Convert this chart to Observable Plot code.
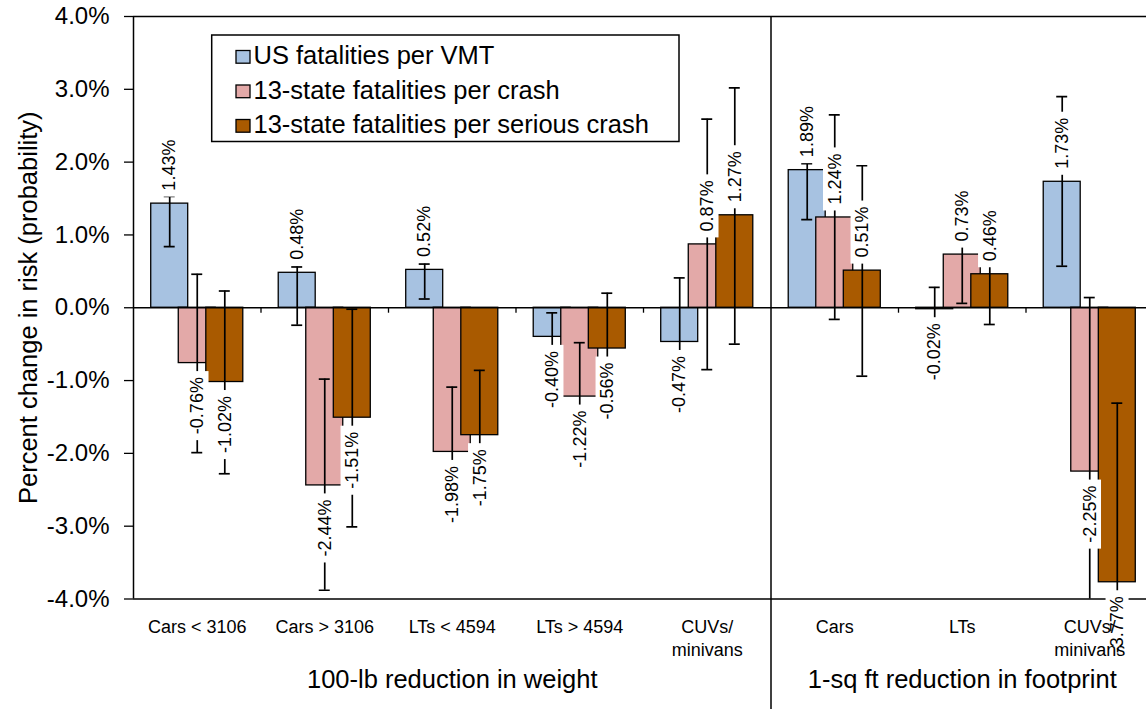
<!DOCTYPE html>
<html>
<head>
<meta charset="utf-8">
<script src="https://cdn.jsdelivr.net/npm/d3@7"></script>
<script src="https://cdn.jsdelivr.net/npm/@observablehq/plot@0.6"></script>
<style>
  html, body { margin: 0; padding: 0; background: white; overflow: hidden; }
  #chart { width: 1146px; height: 709px; }
</style>
</head>
<body>
<div id="chart"></div>
<script>
// ---- data ----
const categories = ["Cars < 3106", "Cars > 3106", "LTs < 4594", "LTs > 4594", "CUVs/\nminivans", "Cars", "LTs", "CUVs/\nminivans"];
const series = ["US fatalities per VMT", "13-state fatalities per crash", "13-state fatalities per serious crash"];
const colors = ["#a7c2e1", "#e3a9a8", "#a95a00"];

const vmt      = [1.43, 0.48, 0.52, -0.40, -0.47, 1.89, -0.02, 1.73];
const vmtLo    = [0.84, -0.24, 0.12, -0.73, -1.35, 1.21, -0.32, 0.57];
const vmtHi    = [1.53, 0.56, 0.60, -0.07, 0.41, 1.98, 0.28, 2.90];

const crash    = [-0.76, -2.44, -1.98, -1.22, 0.87, 1.24, 0.73, -2.25];
const crashLo  = [-1.99, -3.88, -2.87, -1.96, -0.85, -0.16, 0.06, -4.64];
const crashHi  = [0.46, -0.98, -1.09, -0.48, 2.59, 2.65, 1.40, 0.14];

const serious   = [-1.02, -1.51, -1.75, -0.56, 1.27, 0.51, 0.46, -3.77];
const seriousLo = [-2.28, -3.01, -2.64, -1.32, -0.50, -0.94, -0.23, -6.23];
const seriousHi = [0.23, -0.02, -0.86, 0.20, 3.02, 1.95, 1.15, -1.31];

const groups = [
  {name: "100-lb reduction in weight", from: 0, to: 5},
  {name: "1-sq ft reduction in footprint", from: 5, to: 8}
];
const yTicks = [-4, -3, -2, -1, 0, 1, 2, 3, 4];
const yTitle = "Percent change in risk (probability)";

// ---- table ----
const vals = [vmt, crash, serious], los = [vmtLo, crashLo, seriousLo], his = [vmtHi, crashHi, seriousHi];
const rows = [];
series.forEach((s, j) => categories.forEach((c, i) => rows.push({i, j, s, c, v: vals[j][i], lo: los[j][i], hi: his[j][i]})));

const STEP = 0.216, HALF = 0.145, CAP = 0.043;
const cx = d => d.i + 0.5 + (d.j - 1) * STEP;
const fmt = d => d.v.toFixed(2) + "%";
const boundaries = d3.range(1, categories.length).filter(b => !groups.some(g => g.from === b));

const plot = Plot.plot({
  width: 1146,
  height: 709,
  marginLeft: 133,
  marginRight: 0,
  marginTop: 16,
  marginBottom: 110.5,
  style: {fontFamily: "'Liberation Sans', Arial, sans-serif", fontSize: "18px", color: "black", background: "white"},
  x: {domain: [0, 8], range: [133, 1153], axis: null},
  y: {domain: [-4, 4], range: [598.5, 16]},
  color: {domain: series, range: colors},
  marks: [
    Plot.rect(rows, {x1: d => cx(d) - HALF, x2: d => cx(d) + HALF, y1: 0, y2: "v", fill: "s", stroke: "black", strokeWidth: 1.3}),
    Plot.ruleX(rows, {x: cx, y1: "lo", y2: "hi", stroke: "black", strokeWidth: 1.7, clip: true}),
    Plot.ruleY(rows, {y: "lo", x1: d => cx(d) - CAP, x2: d => cx(d) + CAP, stroke: "black", strokeWidth: 1.7, clip: true}),
    Plot.ruleY(rows, {y: "hi", x1: d => cx(d) - CAP, x2: d => cx(d) + CAP, stroke: "black", strokeWidth: 1.7, clip: true}),
    Plot.ruleY([0], {stroke: "black", strokeWidth: 1.3}),
    Plot.ruleX(boundaries, {y1: 0, y2: -0.075, stroke: "black", strokeWidth: 1.3}),
    Plot.ruleY([4], {stroke: "black", strokeWidth: 1.5}),
    Plot.ruleY([-4], {stroke: "black", strokeWidth: 1.5}),
    Plot.ruleX([0], {stroke: "black", strokeWidth: 1.5}),
    Plot.ruleX(groups.slice(1), {x: "from", y1: 4, y2: -5.8, stroke: "black", strokeWidth: 1.5}),
    Plot.axisY({ticks: yTicks, tickFormat: d => d.toFixed(1) + "%", tickSize: 9, tickPadding: 15, fontSize: 24, label: null, strokeWidth: 1.3}),
    Plot.text([yTitle], {frameAnchor: "left", textAnchor: "middle", dx: -105, rotate: -90, fontSize: 25.5, fill: "black"}),
    Plot.text(rows.filter(d => d.v >= 0), {x: cx, y: "v", text: fmt, rotate: -90, textAnchor: "start", lineAnchor: "middle", dy: -13, fontSize: 18, fill: "black"}),
    Plot.text(rows.filter(d => d.v < 0), {x: cx, y: "v", text: fmt, rotate: -90, textAnchor: "end", lineAnchor: "middle", dy: 14, fontSize: 18, fill: "black"}),
    Plot.text(categories, {x: (d, i) => i + 0.5, frameAnchor: "bottom", dy: 17, lineAnchor: "top", lineHeight: 1.3, fontSize: 18, fill: "black"}),
    Plot.text(groups, {x: d => (d.from + d.to) / 2, text: "name", frameAnchor: "bottom", dy: 89, fontSize: 25.5, fill: "black"})
  ]
});

document.getElementById("chart").appendChild(plot);

// white label backgrounds (sized from the rendered value-label text)
const labelRe = /^-?\d+\.\d\d%$/;
const labelTexts = Array.from(plot.querySelectorAll("text")).filter(t =>
  labelRe.test(t.textContent.trim()) && (t.getAttribute("transform") || "").includes("rotate"));
const labelGroups = new Set(labelTexts.map(t => t.parentNode));
labelGroups.forEach(g => {
  const first = g.firstChild;
  Array.from(g.querySelectorAll("text")).forEach(t => {
    const bb = t.getBBox();
    const r = document.createElementNS("http://www.w3.org/2000/svg", "rect");
    r.setAttribute("x", bb.x - 6);
    r.setAttribute("y", bb.y - 1.5);
    r.setAttribute("width", bb.width + 12);
    r.setAttribute("height", bb.height + 3);
    r.setAttribute("fill", "white");
    r.setAttribute("stroke", "none");
    const tr = t.getAttribute("transform");
    if (tr) r.setAttribute("transform", tr);
    g.insertBefore(r, first);
  });
});

// legend box
const lg = d3.select(plot).append("g")
  .attr("font-size", 25.5)
  .attr("text-anchor", "start")
  .attr("font-family", "'Liberation Sans', Arial, sans-serif");
lg.append("rect").attr("x", 211.7).attr("y", 35).attr("width", 467.3).attr("height", 106.5)
  .attr("fill", "white").attr("stroke", "black").attr("stroke-width", 1.5);
series.forEach((s, k) => {
  lg.append("rect").attr("x", 236).attr("y", 50.5 + k * 34.5).attr("width", 14).attr("height", 12.7)
    .attr("fill", colors[k]).attr("stroke", "black").attr("stroke-width", 1.3);
  lg.append("text").attr("x", 253.5).attr("y", 64.3 + k * 34.5).attr("fill", "black").text(s);
});
</script>
</body>
</html>
